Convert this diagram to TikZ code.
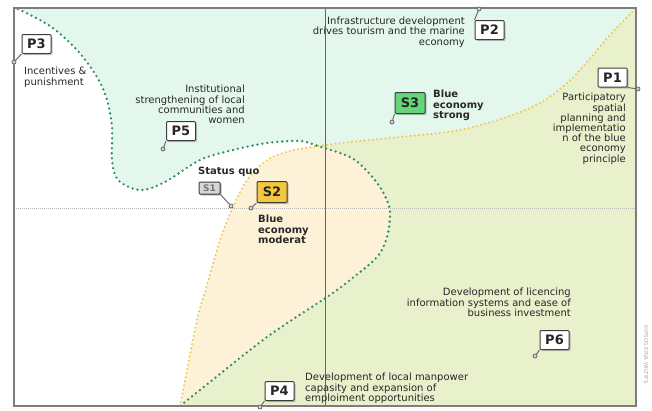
\documentclass[tikz,border=0pt]{standalone}
\usepackage{fontspec}
\setmainfont{DejaVu Sans}
\usetikzlibrary{shadows}

\definecolor{mintfill}{RGB}{228,247,237}
\definecolor{peachfill}{RGB}{253,241,216}
\definecolor{olivefill}{RGB}{232,240,204}
\definecolor{gdot}{RGB}{46,140,100}
\definecolor{ydot}{RGB}{238,196,60}
\definecolor{txt}{RGB}{40,40,40}
\definecolor{frameline}{RGB}{125,125,125}
\definecolor{boxline}{RGB}{60,60,60}
\definecolor{pinline}{RGB}{95,95,95}
\definecolor{sgreen}{RGB}{98,214,120}
\definecolor{sgold}{RGB}{244,200,62}
\definecolor{sgray}{RGB}{215,215,215}

% green boundary: from the top-left corner, round the P5 bulge, down to the base
\def\greencurve{plot[smooth,tension=0.55] coordinates {(18,9) (50,26) (77,50) (97,77) (107,100) (112,127) (112,160) (118,180) (140,190) (165,182) (200,160) (233,150) (267,143) (300,141) (318,146) (350,157) (366,170) (380,187) (388,203) (390,215) (387,237) (377,257) (350,280) (327,297) (267,337) (200,390) (180,406)}}
% yellow boundary: from the base up to the top-right corner
\def\yellowcurve{plot[smooth,tension=0.55] coordinates {(180,406) (197,320) (207,285) (220,240) (233,207) (247,180) (267,160) (290,151) (318,146) (350,142) (400,137) (447,132) (473,127) (507,117) (540,103) (567,83) (587,62) (610,35) (636,8)}}

\begin{document}
\begin{tikzpicture}[x=1pt,y=-1pt,
  font=\fontsize{10}{10.2}\selectfont, text=txt,
  pbox/.style={draw=boxline, fill=white, line width=1pt, rounded corners=1pt,
    minimum width=29pt, minimum height=19pt, inner sep=0pt,
    font=\fontsize{13}{13}\selectfont\bfseries, text=black!85,
    drop shadow={shadow xshift=1.6pt, shadow yshift=-1.6pt, opacity=0.45}},
  sbox/.style={pbox, minimum width=30pt, minimum height=21pt},
  pin/.style={circle, draw=pinline, fill=gray!35, inner sep=0pt,
    minimum size=4pt, line width=0.7pt},
  lead/.style={draw=pinline, line width=0.9pt},
  note/.style={inner sep=0pt},
  tag/.style={inner sep=0pt, align=left, font=\fontsize{10}{10.2}\selectfont\bfseries},
  gdots/.style={draw=gdot, line width=2.6pt, line cap=round, dash pattern=on 0pt off 5pt},
  ydots/.style={draw=ydot, line width=2.1pt, line cap=round, dash pattern=on 0pt off 4.2pt},
]
\useasboundingbox (0,0) rectangle (652,410);

% coloured zones
\fill[peachfill] \yellowcurve -- (636,406) -- cycle;
\begin{scope}
  \clip \greencurve -- (636,406) -- (636,8) -- cycle;
  \fill[mintfill] (0,0) rectangle (652,410);
  \fill[olivefill] \yellowcurve -- (636,406) -- cycle;
\end{scope}

% axes
\draw[gray!80!black, line width=0.6pt] (325,8) -- (325,406);
\draw[gray!55, line width=0.8pt, dash pattern=on 1.2pt off 0.8pt] (14,208) -- (636,208);

% zone boundaries
\draw[ydots] \yellowcurve;
\draw[gdots] \greencurve;

% frame
\draw[frameline, line width=1.2pt] (14,8) rectangle (636,406);

% policy boxes with their pins
\node[pbox] (p1) at (612.5,77.5) {P1};
\node[pbox] (p2) at (489.5,30) {P2};
\node[pbox] (p3) at (36.5,44) {P3};
\node[pbox] (p4) at (279.5,391) {P4};
\node[pbox] (p5) at (181,131) {P5};
\node[pbox] (p6) at (554.5,340) {P6};

\node[pin] (q1) at (638,89) {};
\node[pin] (q2) at (479,9) {};
\node[pin] (q3) at (14,62) {};
\node[pin] (q4) at (260,407) {};
\node[pin] (q5) at (163,149) {};
\node[pin] (q6) at (535,356) {};

\draw[lead] (p1.south east) -- (q1);
\draw[lead] (p2.north west) -- (q2);
\draw[lead] (p3.south west) -- (q3);
\draw[lead] (p4.south west) -- (q4);
\draw[lead] (p5.south west) -- (q5);
\draw[lead] (p6.south west) -- (q6);

% scenario boxes
\node[sbox, fill=sgreen] (s3) at (410,103) {S3};
\node[sbox, fill=sgold] (s2) at (272,192) {S2};
\node[pbox, fill=sgray, minimum width=21pt, minimum height=12pt,
  font=\fontsize{9}{9}\selectfont\bfseries, text=black!55,
  drop shadow={shadow xshift=1pt, shadow yshift=-1pt, opacity=0.45}] (s1) at (209.5,188) {S1};

\node[pin] (r3) at (392,122) {};
\node[pin] (r2) at (251,208) {};
\node[pin] (r1) at (231,206) {};
\draw[lead] (s3.south west) -- (r3);
\draw[lead] (s2.south west) -- (r2);
\draw[lead] (s1.south east) -- (r1);

% policy descriptions
\node[note, anchor=north west, align=left] (t3) at (24,67) {Incentives \&\\punishment};
\node[note, anchor=north east, align=right] (t5) at (245,85) {Institutional\\strengthening of local\\communities and\\women};
\node[note, anchor=north east, align=right] (t2) at (465,17) {Infrastructure development\\drives tourism and the marine\\economy};
\node[note, anchor=north east, align=right] (t1) at (626,93) {Participatory\\spatial\\planning and\\implementatio\\n of the blue\\economy\\principle};
\node[note, anchor=north east, align=right] (t6) at (571,288) {Development of licencing\\information systems and ease of\\business investment};
\node[note, anchor=north west, align=left] (t4) at (305,373) {Development of local manpower\\capasity and expansion of\\emploiment opportunities};

% scenario descriptions
\node[tag, anchor=north west] (u3) at (433,90) {Blue\\economy\\strong};
\node[tag, anchor=north west] (u2) at (258,215) {Blue\\economy\\moderat};
\node[tag, anchor=north west] (u1) at (198,167) {Status quo};

% credit line
\node[rotate=-90, inner sep=0pt, font=\fontsize{5.5}{5.5}\selectfont, text=gray!65] (cr) at (646,354) {©IPSOS ERIA WILTIPS};
\end{tikzpicture}
\end{document}
